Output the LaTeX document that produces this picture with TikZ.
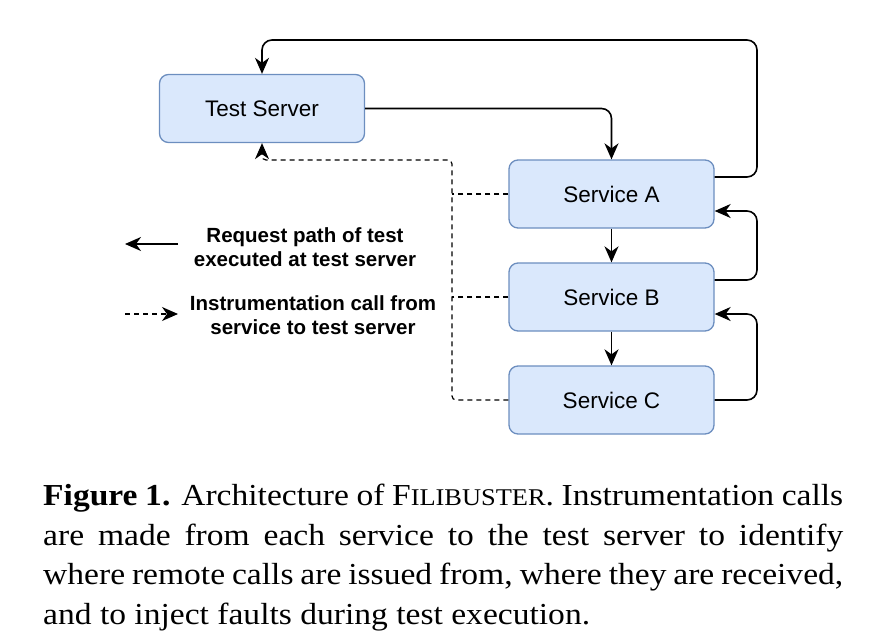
\documentclass[tikz,border=0pt]{standalone}
\usepackage{fontspec}
\setmainfont[FakeStretch=1.1]{Liberation Serif}
\newfontfamily\diagfont{Liberation Sans}
\usetikzlibrary{arrows.meta}
\definecolor{boxfill}{HTML}{DAE8FC}
\definecolor{boxline}{HTML}{6C8EBF}
\tikzset{
	req/.style={line width=1.6pt, rounded corners=10pt},
	instr/.style={line width=1.2pt, dash pattern=on 5pt off 4pt, rounded corners=4pt},
	tiphead/.tip={Stealth[length=16pt,width=14pt,inset=5pt]}
}

\begin{document}
\begin{tikzpicture}[x=1pt,y=-1pt]
			\useasboundingbox (0,0) rectangle (872,640);
			\tikzstyle{every node}=[inner sep=0pt]
			\tikzstyle{svc}=[rectangle, rounded corners=9pt, draw=boxline, fill=boxfill, line width=1.3pt, minimum width=205pt, minimum height=68pt, font=\diagfont\fontsize{22.5}{27}\selectfont]
			\tikzstyle{legend}=[align=center, font=\diagfont\bfseries\fontsize{20.5}{24}\selectfont]
			\node[svc] (ts) at (262,108.5) {Test Server};
			\node[svc] (sa) at (611.5,194) {Service A};
			\node[svc] (sb) at (611.5,297) {Service B};
			\node[svc] (sc) at (611.5,400) {Service C};
			\node[legend] (reqtext) at (305,247) {Request path of test\\executed at test server};
			\node[legend] (instrtext) at (313,315) {Instrumentation call from\\service to test server};
			\coordinate (reqa) at (178,244);
			\coordinate (reqb) at (125,244);
			\coordinate (instra) at (125,314);
			\coordinate (instrb) at (178,314);
			\coordinate (trunka) at (452,194);
			\coordinate (trunkb) at (452,297);
			
			\draw[req, -tiphead] (ts.east) -| (sa.north);
			\draw[req, -tiphead] (sa.east |- 0,177) -- (757,177) -- (757,40) -| (ts.north);
			\draw[req, -tiphead] (sa.south) -- (sb.north);
			\draw[req, -tiphead] (sb.south) -- (sc.north);
			\draw[req, -tiphead] (sb.east |- 0,280) -- (757,280) |- (sa.east |- 0,211);
			\draw[req, -tiphead] (sc.east) -- (757,400) |- (sb.east |- 0,314);
			
			\draw[instr, -tiphead] (sc.west) -- (452,400) -- (452,160) -| (ts.south);
			\draw[instr] (sa.west) -- (trunka);
			\draw[instr] (sb.west) -- (trunkb);
			
			\draw[req, -tiphead] (reqa) -- (reqb);
			\draw[instr, -tiphead] (instra) -- (instrb);
			
			\node[text width=800pt, align=justify, anchor=north west, font=\fontsize{30.5}{39.5}\selectfont] (caption) at (43,484) {\textbf{Figure 1.} Architecture of F{\fontsize{24}{39.5}\selectfont ILIBUSTER}. Instrumentation calls\linebreak are made from each service to the test server to identify\linebreak where remote calls are issued from, where they are received,\linebreak and to inject faults during test execution.};
		\end{tikzpicture}
\end{document}
